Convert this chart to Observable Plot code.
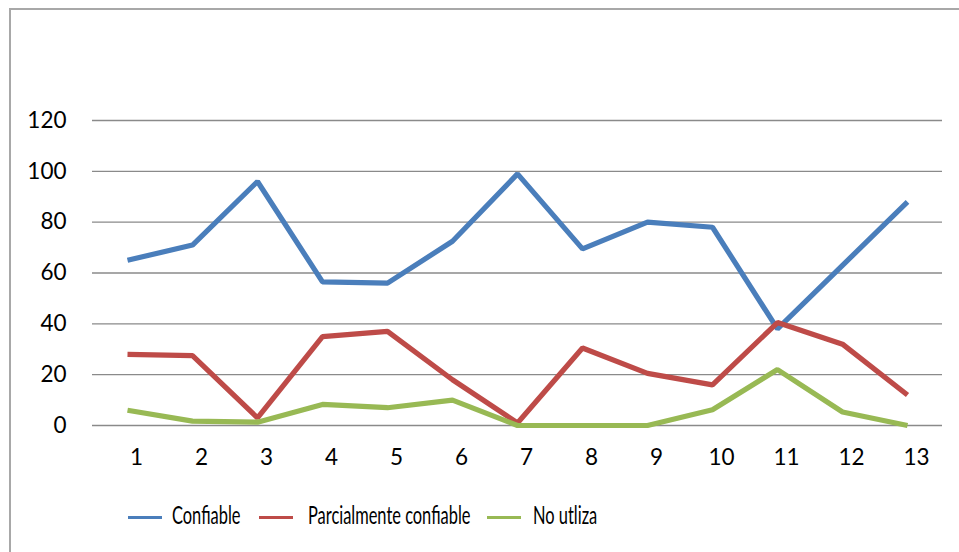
<!DOCTYPE html>
<html>
<head>
<meta charset="utf-8">
<script src="https://cdn.jsdelivr.net/npm/d3@7"></script>
<script src="https://cdn.jsdelivr.net/npm/@observablehq/plot@0.6"></script>
<style>
  html, body { margin: 0; padding: 0; background: #fff; }
  #wrap { position: relative; width: 959px; height: 552px; overflow: hidden; font-family: Lato, "Open Sans", sans-serif; }
  #frame { position: absolute; left: 9px; top: 8px; width: 960px; height: 560px; border-left: 2px solid #a8a8a8; border-top: 2px solid #a8a8a8; box-sizing: border-box; }
  #chart { position: absolute; left: 0; top: 0; }
  #legend { position: absolute; left: 0; top: 0; width: 959px; height: 552px; pointer-events: none; }
  .swatch { position: absolute; width: 34px; height: 3.5px; top: 515.5px; }
  .label { position: absolute; top: 501px; font-size: 24.5px; line-height: 28px; color: #000; white-space: nowrap; transform: scaleX(0.67); transform-origin: 0 50%; }
</style>
</head>
<body>
<div id="wrap">
  <div id="frame"></div>
  <div id="chart"></div>
  <div id="legend"></div>
</div>
<script>
const categories = ["1","2","3","4","5","6","7","8","9","10","11","12","13"];
const seriesNames = ["Confiable", "Parcialmente confiable", "No utliza"];
const confiable = [65, 71, 96, 56.5, 56, 72.5, 99, 69.5, 80, 78, 38, 63, 88];
const parcialmente = [28, 27.5, 3, 35, 37, 18, 1, 30.5, 20.5, 16, 40.5, 32, 12];
const noUtliza = [6, 1.7, 1.3, 8.3, 7, 10, 0, 0, 0, 6.2, 22, 5.3, 0];
const colors = ["#4a7ebb", "#be4b48", "#98b954"];
const yTicks = [0, 20, 40, 60, 80, 100, 120];

const seriesValues = [confiable, parcialmente, noUtliza];
const data = [];
seriesNames.forEach((s, i) => categories.forEach((c, j) => data.push({series: s, cat: c, value: seriesValues[i][j]})));

const chart = Plot.plot({
  width: 959,
  height: 490,
  marginTop: 120,
  marginBottom: 65,
  marginLeft: 92,
  marginRight: 17,
  style: {fontFamily: "Lato, 'Open Sans', sans-serif", fontSize: "22px", color: "#000", background: "transparent"},
  x: {type: "point", domain: categories, padding: 0.5, label: null},
  y: {domain: [0, 120], label: null},
  color: {domain: seriesNames, range: colors},
  marks: [
    Plot.ruleY(yTicks, {stroke: "#8a8a8a", strokeWidth: 1.4, strokeOpacity: 1}),
    Plot.axisY({ticks: yTicks, tickSize: 0, tickPadding: 26, label: null, fontSize: 22.5}),
    Plot.axisX({tickSize: 0, tickPadding: 24, dx: 9, label: null, fontSize: 22.5}),
    Plot.line(data, {x: "cat", y: "value", z: "series", stroke: "series", strokeWidth: 5.2, strokeLinejoin: "miter", strokeLinecap: "butt"})
  ]
});
document.getElementById("chart").appendChild(chart);

// legend layout (HTML, below the plot area)
const swatchLeft = [128, 259, 487];
const labelLeft = [172, 308, 533];
const legend = document.getElementById("legend");
seriesNames.forEach((s, i) => {
  const sw = document.createElement("div");
  sw.className = "swatch";
  sw.style.background = colors[i];
  sw.style.left = swatchLeft[i] + "px";
  const label = document.createElement("span");
  label.className = "label";
  label.style.left = labelLeft[i] + "px";
  label.textContent = s;
  legend.appendChild(sw);
  legend.appendChild(label);
});
</script>
</body>
</html>
